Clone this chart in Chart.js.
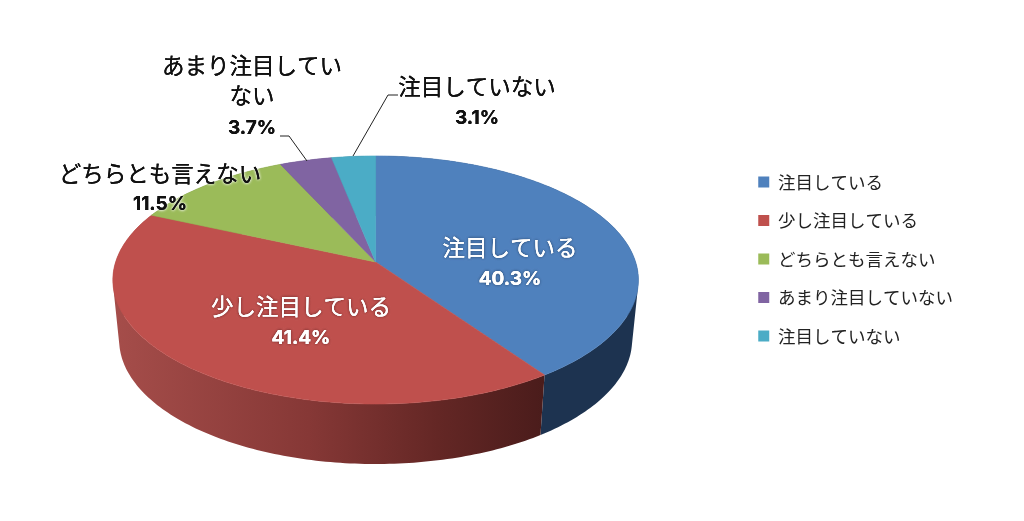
<!DOCTYPE html>
<html lang="ja">
<head>
<meta charset="utf-8">
<title>注目度</title>
<script src="https://cdn.jsdelivr.net/npm/chart.js@4"></script>
<style>
  html, body { margin: 0; background: #fff; }
  canvas { display: block; }
</style>
</head>
<body>
<canvas id="pieChart" width="1024" height="521"></canvas>
<script>
const categories = ['注目している', '少し注目している', 'どちらとも言えない', 'あまり注目していない', '注目していない'];
const shares = [40.3, 41.4, 11.5, 3.7, 3.1];
const sliceColors = ['#4f81bd', '#bf504d', '#9bbb59', '#8064a2', '#4bacc6'];

const JP_FONT = '"Noto Sans CJK JP", "Noto Sans", sans-serif';
const PCT_FONT = 'bold 19px Inter, "Open Sans", sans-serif';

// 手前が大きく見える3D円グラフの投影
const TILT = 0.467;
const PERSPECTIVE = -0.145;
const DEPTH = 60;
const BOTTOM_SHRINK = 0.976;
const CENTER_DROP = 3; // 凡例と円の中心をずらす分

function project(el, angle) {
  const u = Math.cos(angle), v = Math.sin(angle);
  const d = 1 + PERSPECTIVE * v;
  return {
    x: el.x + el.outerRadius * u / d,
    y: el.y + CENTER_DROP + el.outerRadius * TILT * v / d
  };
}

function sampleAngles(el) {
  const steps = Math.max(8, Math.ceil((el.endAngle - el.startAngle) * 60));
  const out = [];
  for (let i = 0; i <= steps; i++) {
    out.push(el.startAngle + (el.endAngle - el.startAngle) * i / steps);
  }
  return out;
}

function wallFill(ctx, index) {
  if (index === 1) {
    const g = ctx.createLinearGradient(115, 0, 545, 0);
    g.addColorStop(0, '#a54d4a');
    g.addColorStop(0.45, '#863836');
    g.addColorStop(0.75, '#642725');
    g.addColorStop(1, '#4a1c1b');
    return g;
  }
  return ['#1d3350', null, '#5f7335', '#4c3b61', '#2c6778'][index];
}

function drawWall(ctx, el, index) {
  const pts = sampleAngles(el).map(a => project(el, a));
  const low = p => ({ x: el.x + (p.x - el.x) * BOTTOM_SHRINK, y: p.y + DEPTH });
  // 端で帯が折り返すので、向きを揃えた四角形を一つのパスにまとめて塗る
  ctx.beginPath();
  for (let i = 1; i < pts.length; i++) {
    const quad = [pts[i - 1], pts[i], low(pts[i]), low(pts[i - 1])];
    let area = 0;
    quad.forEach((p, j) => {
      const q = quad[(j + 1) % 4];
      area += p.x * q.y - q.x * p.y;
    });
    if (area < 0) quad.reverse();
    quad.forEach((p, j) => j ? ctx.lineTo(p.x, p.y) : ctx.moveTo(p.x, p.y));
    ctx.closePath();
  }
  ctx.fillStyle = wallFill(ctx, index);
  ctx.fill();
}

function drawTop(ctx, el) {
  ctx.beginPath();
  ctx.moveTo(el.x, el.y + CENTER_DROP);
  sampleAngles(el).forEach(a => {
    const p = project(el, a);
    ctx.lineTo(p.x, p.y);
  });
  ctx.closePath();
  ctx.fillStyle = el.options.backgroundColor;
  ctx.strokeStyle = el.options.backgroundColor;
  ctx.lineWidth = 0.6;
  ctx.fill();
  ctx.stroke();
}

function haloText(ctx, text, x, y, font, color, halo) {
  ctx.save();
  ctx.font = font;
  ctx.textAlign = 'center';
  ctx.textBaseline = 'middle';
  ctx.fillStyle = color;
  ctx.shadowColor = halo;
  ctx.shadowBlur = 3;
  ctx.fillText(text, x, y);
  ctx.fillText(text, x, y);
  ctx.shadowBlur = 0;
  ctx.fillText(text, x, y);
  ctx.restore();
}

const pie3d = {
  id: 'pie3d',
  beforeDatasetDraw(chart) {
    const ctx = chart.ctx;
    const arcs = chart.getDatasetMeta(0).data;
    arcs.forEach((el, i) => drawWall(ctx, el, i));
    arcs.forEach(el => drawTop(ctx, el));
    return false; // 標準の円弧は描かない
  },
  afterDatasetsDraw(chart) {
    const ctx = chart.ctx;
    const big = '22.5px ' + JP_FONT;

    ctx.save();
    ctx.strokeStyle = '#222';
    ctx.lineWidth = 1;
    ctx.beginPath();
    ctx.moveTo(280, 136); ctx.lineTo(289, 136); ctx.lineTo(307, 161);
    ctx.moveTo(398, 95); ctx.lineTo(388, 95); ctx.lineTo(353, 156);
    ctx.stroke();
    ctx.restore();

    const pct = i => shares[i].toFixed(1) + '%';
    haloText(ctx, categories[0], 510, 247, big, '#fff', 'rgba(40,70,110,0.7)');
    haloText(ctx, pct(0), 510, 279, PCT_FONT, '#fff', 'rgba(40,70,110,0.7)');
    haloText(ctx, categories[1], 301, 306, big, '#fff', 'rgba(110,40,40,0.7)');
    haloText(ctx, pct(1), 301, 338, PCT_FONT, '#fff', 'rgba(110,40,40,0.7)');
    haloText(ctx, categories[2], 160, 173, big, '#111', '#fff');
    haloText(ctx, pct(2), 160, 204, PCT_FONT, '#111', '#fff');
    haloText(ctx, 'あまり注目してい', 252, 65, big, '#111', '#fff');
    haloText(ctx, 'ない', 252, 95, big, '#111', '#fff');
    haloText(ctx, pct(3), 252, 128, PCT_FONT, '#111', '#fff');
    haloText(ctx, categories[4], 477, 86, big, '#111', '#fff');
    haloText(ctx, pct(4), 477, 118, PCT_FONT, '#111', '#fff');
  }
};

new Chart(document.getElementById('pieChart').getContext('2d'), {
  type: 'pie',
  data: {
    labels: categories,
    datasets: [{ data: shares, backgroundColor: sliceColors, borderWidth: 0 }]
  },
  options: {
    responsive: false,
    animation: false,
    radius: 260,
    layout: { padding: { left: 14, top: 3, right: 61, bottom: 6 } },
    plugins: {
      tooltip: { enabled: false },
      legend: {
        position: 'right',
        labels: {
          boxWidth: 11,
          boxHeight: 11,
          padding: 21,
          color: '#222',
          font: { family: JP_FONT, size: 17.5 }
        }
      }
    }
  },
  plugins: [pie3d]
});
</script>
</body>
</html>
